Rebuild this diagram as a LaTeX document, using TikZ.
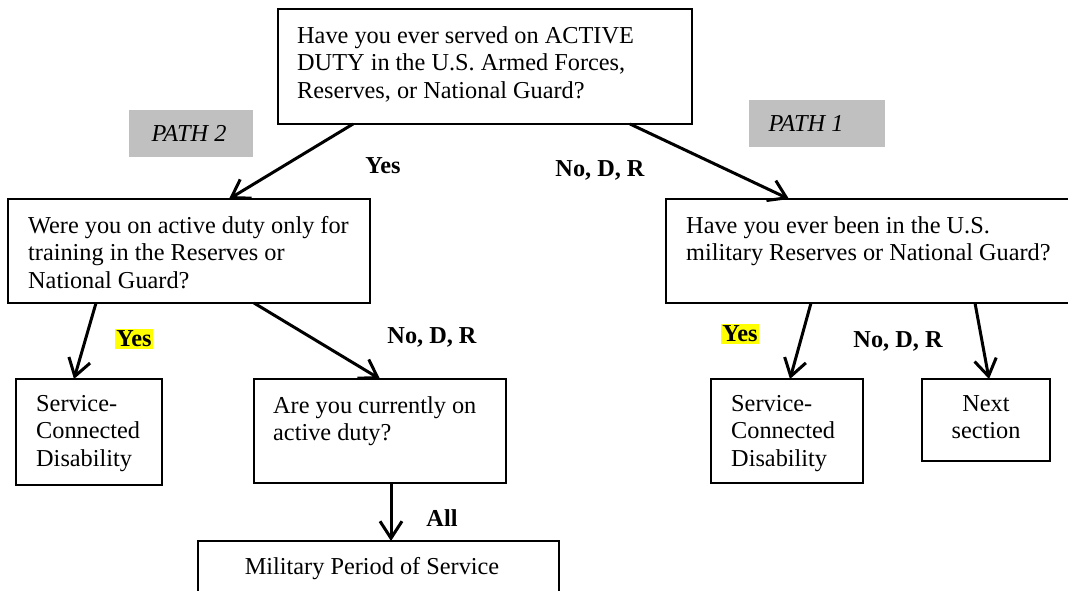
\documentclass[tikz,border=0pt]{standalone}
\usepackage{fontspec}
\setmainfont{Liberation Serif}
\usetikzlibrary{arrows.meta}
\definecolor{pathgray}{RGB}{192,192,192}
\definecolor{hlyellow}{RGB}{255,255,0}
\begin{document}
\begin{tikzpicture}[x=1pt,y=-1pt,
  box/.style={draw, line width=1.3pt, rectangle, anchor=north west, inner sep=0pt, outer sep=0pt},
  txt/.style={anchor=north west, inner sep=0pt, align=left, font=\fontsize{24.3}{27.5}\selectfont},
  ctxt/.style={anchor=north, inner sep=0pt, align=center, font=\fontsize{24.3}{27.5}\selectfont},
  lbl/.style={inner sep=0pt, font=\fontsize{24.3}{27.5}\selectfont\bfseries},
  hl/.style={lbl, fill=hlyellow, inner xsep=1pt, inner ysep=2pt},
  pathbox/.style={fill=pathgray, rectangle, anchor=north west, inner sep=0pt},
  pathtxt/.style={inner sep=0pt, font=\fontsize{24.3}{27.5}\selectfont\itshape},
  conn/.style={-{Straight Barb[length=17pt,width=22pt,line width=3pt]}, line width=3pt},
]
\clip (0,0) rectangle (1068,590);

% boxes
\node[box, minimum width=414pt, minimum height=115pt] (top) at (278,9) {};
\node[box, minimum width=362pt, minimum height=104pt] (left2) at (8,199) {};
\node[box, minimum width=420pt, minimum height=104pt] (right2) at (666,199) {};
\node[box, minimum width=146pt, minimum height=106pt] (scdA) at (16,379) {};
\node[box, minimum width=252pt, minimum height=104pt] (are) at (254,379) {};
\node[box, minimum width=152pt, minimum height=104pt] (scdB) at (711,379) {};
\node[box, minimum width=128pt, minimum height=82pt] (next) at (922,379) {};
\node[box, minimum width=361pt, minimum height=70pt] (mil) at (198,541) {};

% box texts
\node[txt] (topT) at (297,26) {Have you ever served on ACTIVE\\DUTY in the U.S. Armed Forces,\\Reserves, or National Guard?};
\node[txt] (left2T) at (28,216) {Were you on active duty only for\\training in the Reserves or\\National Guard?};
\node[txt] (right2T) at (686,216) {Have you ever been in the U.S.\\military Reserves or National Guard?};
\node[txt] (scdAT) at (36,395) {Service-\\Connected\\Disability};
\node[txt] (areT) at (273,396) {Are you currently on\\active duty?};
\node[txt] (scdBT) at (731,395) {Service-\\Connected\\Disability};
\node[ctxt] (nextT) at (986,395) {Next\\section};
\node[ctxt] (milT) at (372,557) {Military Period of Service};

% path labels
\node[pathbox, minimum width=124pt, minimum height=47pt] (p2) at (129,110) {};
\node[pathtxt] (p2T) at (189,133.5) {PATH 2};
\node[pathbox, minimum width=136pt, minimum height=47pt] (p1) at (749,100) {};
\node[pathtxt] (p1T) at (806,123.5) {PATH 1};

% connectors
\draw[conn] ([xshift=75pt]top.south west) -- ([xshift=221pt]left2.north west);
\draw[conn] ([xshift=352pt]top.south west) -- ([xshift=123pt]right2.north west);
\draw[conn] ([xshift=88pt]left2.south west) -- ([xshift=58pt]scdA.north west);
\draw[conn] ([xshift=246pt]left2.south west) -- ([xshift=126pt]are.north west);
\draw[conn] ([xshift=137pt]are.south west) -- ([xshift=193pt]mil.north west);
\draw[conn] ([xshift=145pt]right2.south west) -- ([xshift=79pt]scdB.north west);
\draw[conn] ([xshift=309pt]right2.south west) -- ([xshift=67pt]next.north west);

% labels
\node[lbl] (yes1) at (383,166) {Yes};
\node[lbl] (no1) at (600,170) {No, D, R};
\node[hl] (yes2) at (134,339) {Yes};
\node[lbl] (no2) at (432,337) {No, D, R};
\node[lbl] (all) at (442,518) {All};
\node[hl] (yes3) at (740,334) {Yes};
\node[lbl] (no3) at (898,341) {No, D, R};
\end{tikzpicture}
\end{document}
